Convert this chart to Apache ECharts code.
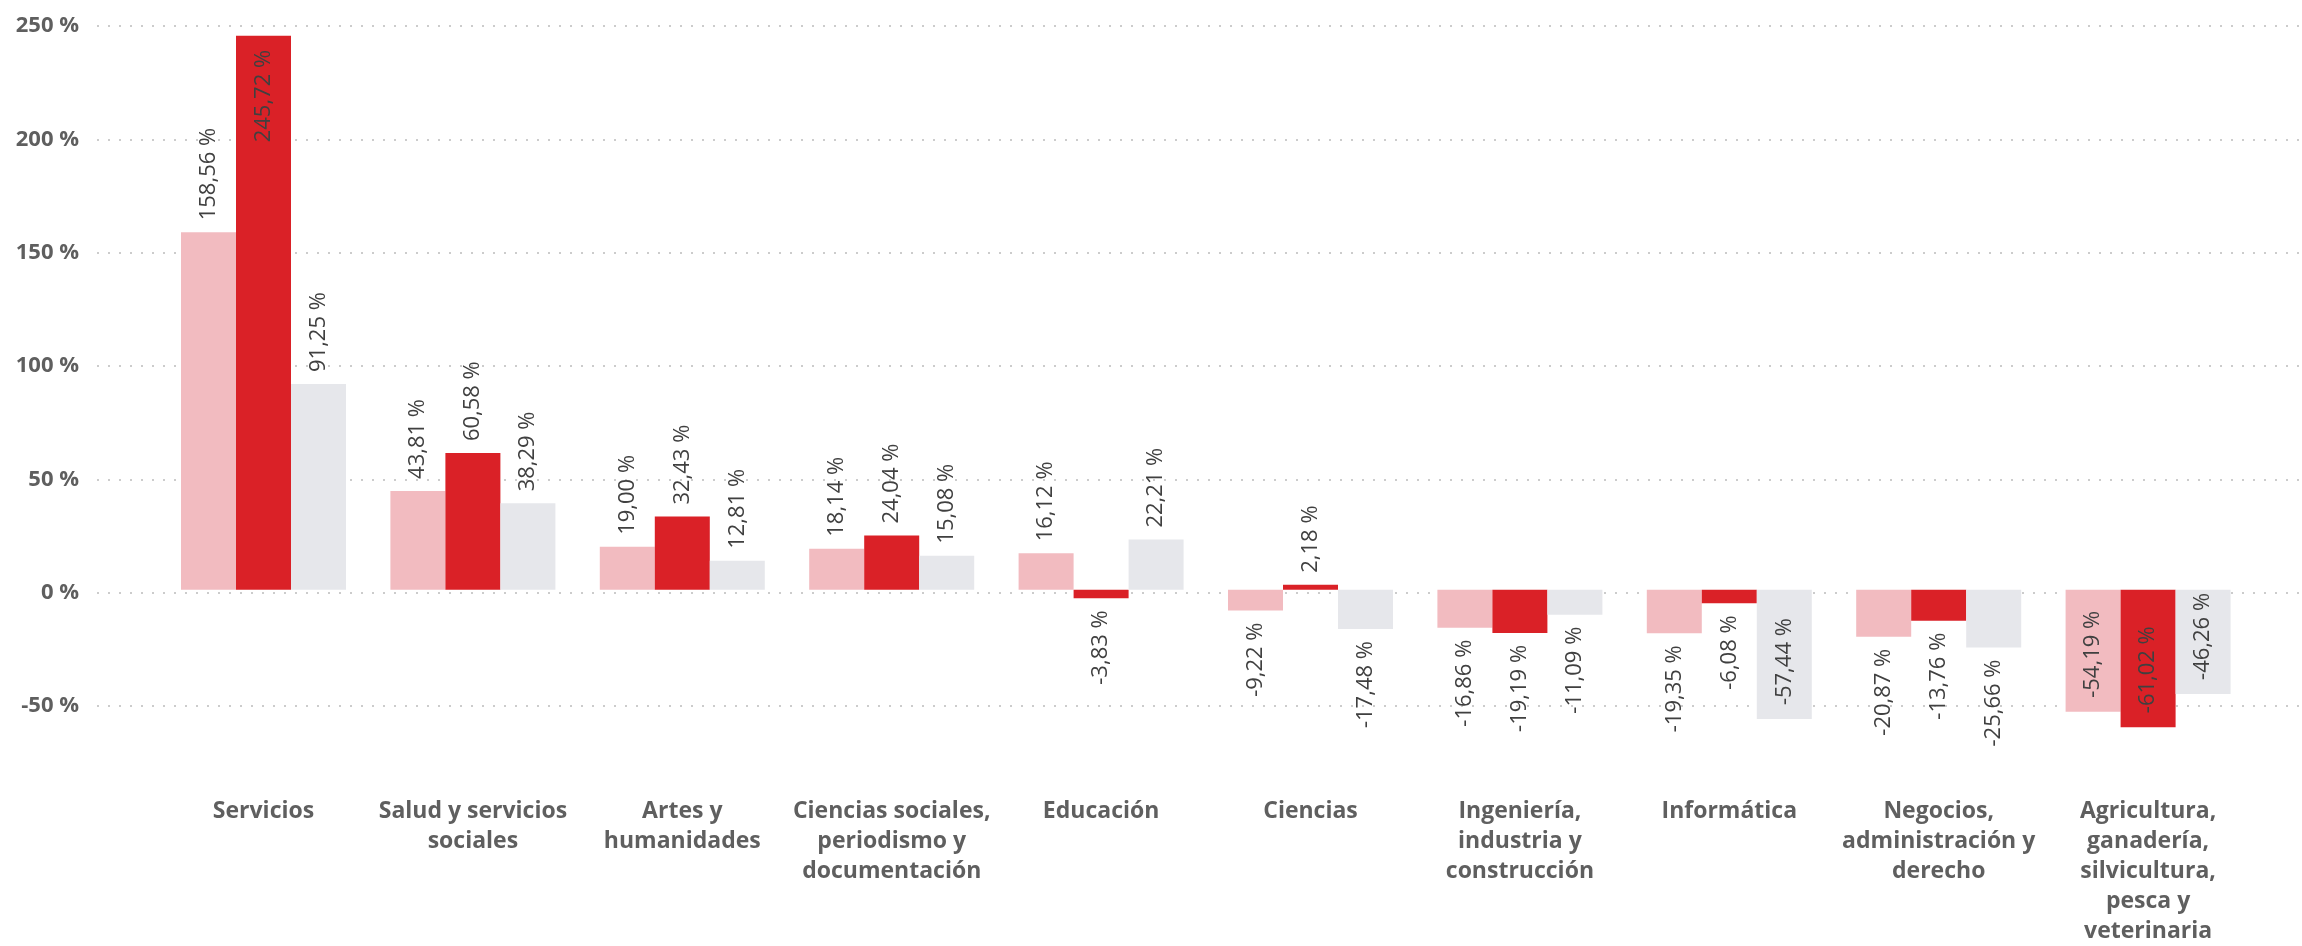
<!DOCTYPE html>
<html><head><meta charset="utf-8">
<script src="https://cdn.jsdelivr.net/npm/echarts@6/dist/echarts.min.js"></script>
<style>html,body{margin:0;padding:0;background:#fff}#c{width:2302px;height:946px}</style>
</head><body><div id="c"></div>
<script>
const categories = ['Servicios','Salud y servicios\nsociales','Artes y\nhumanidades','Ciencias sociales,\nperiodismo y\ndocumentación','Educación','Ciencias','Ingeniería,\nindustria y\nconstrucción','Informática','Negocios,\nadministración y\nderecho','Agricultura,\nganadería,\nsilvicultura,\npesca y\nveterinaria'];
const seriesA = [158.56, 43.81, 19.00, 18.14, 16.12, -9.22, -16.86, -19.35, -20.87, -54.19];
const seriesB = [245.72, 60.58, 32.43, 24.04, -3.83, 2.18, -19.19, -6.08, -13.76, -61.02];
const seriesC = [91.25, 38.29, 12.81, 15.08, 22.21, -17.48, -11.09, -57.44, -25.66, -46.26];
const yTicks = [-50, 0, 50, 100, 150, 200, 250];

const fmt = v => v.toFixed(2).replace('.', ',') + ' %';
const labelFont = {fontFamily: '"Open Sans", sans-serif', fontSize: 22, color: '#404040'};
function labelFor(v) {
  let cfg;
  if (v >= 0 && v > 200) cfg = {position: 'insideTop', align: 'right', distance: 14};
  else if (v >= 0) cfg = {position: 'top', align: 'left', distance: 12};
  else if (v < -40) cfg = {position: 'insideBottom', align: 'left', distance: 14};
  else cfg = {position: 'bottom', align: 'right', distance: 12};
  return Object.assign({show: true, rotate: 90, verticalAlign: 'middle', formatter: p => fmt(p.value)}, labelFont, cfg);
}
function mk(name, arr, color) {
  return {
    name, type: 'bar', xAxisIndex: 1, yAxisIndex: 1,
    barWidth: 55, barGap: '0%',
    itemStyle: {color},
    data: arr.map(v => ({value: v, label: labelFor(v)}))
  };
}
const chart = echarts.init(document.getElementById('c'), null, {renderer: 'canvas'});
chart.setOption({
  animation: false,
  backgroundColor: '#ffffff',
  grid: [
    {left: 97, right: 0, top: 26.2, bottom: 240},
    {left: 158.8, right: 49.2, top: 26.2, bottom: 153.9}
  ],
  xAxis: [
    {type: 'value', gridIndex: 0, show: false, min: 0, max: 1},
    {type: 'category', gridIndex: 1, data: categories,
     axisLine: {show: false}, axisTick: {show: false},
     axisLabel: {interval: 0, margin: 8, fontFamily: '"Open Sans", sans-serif', fontWeight: 'bold', fontSize: 23, lineHeight: 30, color: '#5f5f5f', align: 'center'}}
  ],
  yAxis: [
    {type: 'value', gridIndex: 0, min: yTicks[0], max: yTicks[yTicks.length-1], interval: 50,
     axisLine: {show: false}, axisTick: {show: false},
     axisLabel: {margin: 18, fontFamily: '"Open Sans", sans-serif', fontWeight: 'bold', fontSize: 22, color: '#5f5f5f', formatter: v => v + ' %'},
     splitLine: {show: true, lineStyle: {color: '#cccccc', width: 2, type: [2, 9]}}},
    {type: 'value', gridIndex: 1, min: -88, max: 250, show: false, splitLine: {show: false}}
  ],
  series: [
    mk('A', seriesA, '#F2BBC0'),
    mk('B', seriesB, '#DA2127'),
    mk('C', seriesC, '#E6E7EB')
  ]
});
</script></body></html>
